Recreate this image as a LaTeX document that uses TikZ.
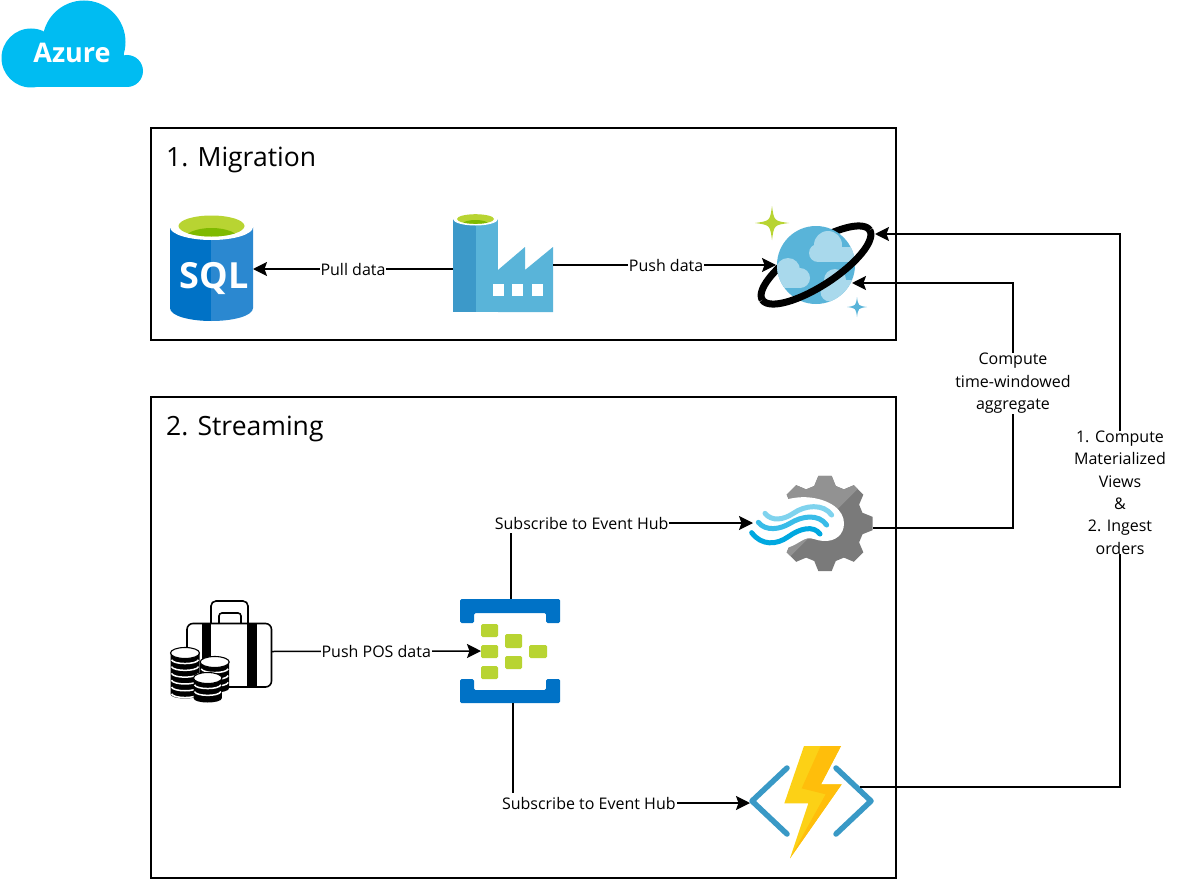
\documentclass[tikz,border=0pt]{standalone}
\usepackage{fontspec}
\setmainfont{Open Sans}
\usetikzlibrary{arrows.meta}
\definecolor{azurecloud}{HTML}{00BCF2}
\definecolor{sqlA}{HTML}{0072C6}
\definecolor{sqlB}{HTML}{2B88D0}
\definecolor{limeA}{HTML}{B8D432}
\definecolor{limeB}{HTML}{7FBA00}
\definecolor{adfA}{HTML}{3C99C9}
\definecolor{adfB}{HTML}{59B4D9}
\definecolor{cloudL}{HTML}{A9D9EC}
\definecolor{gearA}{HTML}{929292}
\definecolor{gearB}{HTML}{7A7A7A}
\definecolor{waveA}{HTML}{7FD3EE}
\definecolor{waveB}{HTML}{39BCE8}
\definecolor{waveC}{HTML}{00A8E0}
\definecolor{funcB}{HTML}{3999C6}
\definecolor{boltA}{HTML}{FCD116}
\definecolor{boltB}{HTML}{FFBE0B}
\newcommand{\coinstack}[4]{% x, ytop, ybottom, r
  \fill[black] (#1-#4,#2) -- (#1-#4,#3) .. controls (#1-#4,#3+6) and (#1+#4,#3+6) .. (#1+#4,#3) -- (#1+#4,#2) -- cycle;
  \foreach \yy in {1,2,3,4,5,6,7}{
    \pgfmathsetmacro{\ly}{#2+\yy*6.8}
    \ifdim\ly pt<#3pt
      \draw[white,line width=1.5pt] (#1-#4+1,\ly) .. controls (#1-#4+3,\ly+5) and (#1+#4-3,\ly+5) .. (#1+#4-1,\ly);
    \fi
  }
  \draw[black,fill=white,line width=1.1pt] (#1,#2) ellipse[x radius=#4,y radius=5.5];
}
\newcommand{\fourstar}[4]{% x, y, r, colour
  \fill[#4] (#1,#2-#3) .. controls (#1+.12*#3,#2-.12*#3) .. (#1+#3,#2) .. controls (#1+.12*#3,#2+.12*#3) .. (#1,#2+#3) .. controls (#1-.12*#3,#2+.12*#3) .. (#1-#3,#2) .. controls (#1-.12*#3,#2-.12*#3) .. cycle;
}
\tikzset{
  frame/.style={draw=black,line width=1.5pt,fill=white},
  title/.style={anchor=west,inner sep=0pt,font=\fontsize{26.5}{30}\selectfont},
  icon/.style={inner sep=0pt,outer sep=0pt,minimum width=#1},
  link/.style={line width=1.5pt,-{Stealth[length=14pt,width=14pt,inset=2.5pt]}},
  lab/.style={fill=white,inner xsep=1pt,inner ysep=0pt,minimum height=20pt,align=center,font=\fontsize{16}{22.4}\selectfont},
}
\begin{document}
\begin{tikzpicture}[x=1pt,y=-1pt]
\useasboundingbox (0,0) rectangle (1178,880);
\fill[white] (0,0) rectangle (1178,880);

% Azure cloud
\fill[azurecloud] (84,42) circle[radius=41.5];
\fill[azurecloud] (31,58) circle[radius=29.5];
\fill[azurecloud] (127,71) circle[radius=16];
\fill[azurecloud] (31,60) rectangle (127,87);
\fill[azurecloud] (84,50) rectangle (124,70);
\node[font=\fontsize{27}{30}\selectfont\bfseries,text=white,inner sep=0pt] (azure) at (72,52.5) {Azure};

% Frames
\draw[frame] (151,128) rectangle (896,340);
\draw[frame] (151,397) rectangle (896,878);
\node[title] (t1) at (166,160) {1. Migration};
\node[title] (t2) at (166,429) {2. Streaming};

% SQL icon
\begin{scope}
\clip (170,205) rectangle (211,325);
\fill[sqlA] (170,227) -- (170,308) .. controls (170,316) and (190,321) .. (211.5,321) .. controls (233,321) and (253,316) .. (253,308) -- (253,227) -- cycle;
\end{scope}
\begin{scope}
\clip (211,205) rectangle (255,325);
\fill[sqlB] (170,227) -- (170,308) .. controls (170,316) and (190,321) .. (211.5,321) .. controls (233,321) and (253,316) .. (253,308) -- (253,227) -- cycle;
\end{scope}
\fill[white] (211.5,227) ellipse[x radius=41.5,y radius=13];
\fill[limeA] (211.5,226) ellipse[x radius=33,y radius=10.5];
\begin{scope}
\clip (211.5,226) ellipse[x radius=33,y radius=10.5];
\fill[limeB] (211.5,240) ellipse[x radius=28,y radius=12];
\end{scope}
\node[text=white,font=\fontsize{36}{40}\selectfont\bfseries,inner sep=0pt] (sqltext) at (214,279) {SQL};
\node[icon=83pt,minimum height=106pt] (sql) at (211.5,269) {};

% Data factory icon
\fill[adfA] (453,219) rectangle (476,312);
\fill[adfB] (476,219) rectangle (498,312);
\fill[adfB] (498,270) -- (525,247) -- (525,270) -- (553,247) -- (553,312) -- (498,312) -- cycle;
\fill[white] (475.5,219) ellipse[x radius=22.5,y radius=6.5];
\fill[limeA] (475.5,219) ellipse[x radius=18.5,y radius=4.8];
\begin{scope}
\clip (475.5,219) ellipse[x radius=18.5,y radius=4.8];
\fill[limeB] (475.5,224) ellipse[x radius=13,y radius=4];
\end{scope}
\fill[white] (493,284) rectangle (504,296);
\fill[white] (512,284) rectangle (523,296);
\fill[white] (532,284) rectangle (543,296);
\node[icon=100pt,minimum height=94pt] (adf) at (503,265) {};

% Cosmos icon
\begin{scope}[shift={(816,265)},rotate=33]
\draw[black,line width=7pt] plot[domain=180:360,samples=50,smooth] ({64*cos(\x)},{21*sin(\x)});
\end{scope}
\fill[adfB] (816,265) circle[radius=39];
\begin{scope}
\clip (816,265) circle[radius=39];
\fill[cloudL] (828,245) circle[radius=14];
\fill[cloudL] (818,253) circle[radius=9];
\fill[cloudL] (818,247) rectangle (862,262);
\fill[cloudL] (788,270) circle[radius=12];
\fill[cloudL] (800,278) circle[radius=10];
\fill[cloudL] (770,270) rectangle (788,288);
\fill[cloudL] (788,278) rectangle (800,288);
\fill[cloudL] (835,280) circle[radius=11];
\fill[cloudL] (830,292) circle[radius=9.5];
\fill[cloudL] (835,280) rectangle (862,305);
\end{scope}
\begin{scope}[shift={(816,265)},rotate=33]
\draw[black,line width=7pt] plot[domain=0:180,samples=50,smooth] ({64*cos(\x)},{21*sin(\x)});
\end{scope}
\fourstar{772}{223}{17}{limeA}
\fourstar{857}{307}{10}{adfB}
\node[icon=118pt,minimum height=83pt] (cosmos) at (816,265) {};
\coordinate (cosA) at (875,234);
\coordinate (cosB) at (852,283);
\coordinate (cosIn) at (776,265);

% Stream Analytics icon
\begin{scope}[shift={(825,523.5)}]
\clip (-15:39) \foreach \a in {0,45,...,315}{ -- ({\a-16}:39) -- ({\a-8}:48) -- ({\a+8}:48) -- ({\a+16}:39)} -- cycle;
\fill[gearB] (-60,-60) rectangle (60,60);
\fill[gearA] (-60,58) -- (60,-62) -- (-60,-62) -- cycle;
\end{scope}
\begin{scope}[shift={(730,460)},scale=1/3]
\fill[white] (90,150) .. controls (130,130) and (180,108) .. (235,112) .. controls (300,118) and (342,150) .. (342,190) .. controls (342,225) and (315,245) .. (280,243) .. controls (260,242) and (245,232) .. (232,235) .. controls (210,240) and (195,262) .. (150,268) .. controls (110,272) and (70,250) .. (50,220) -- cycle;
\draw[waveA,line width=5pt,line cap=round] (105,160) .. controls (125,185) and (160,180) .. (190,160) .. controls (225,135) and (280,130) .. (305,165);
\draw[waveB,line width=5pt,line cap=round] (85,187) .. controls (108,215) and (150,208) .. (180,190) .. controls (215,168) and (265,160) .. (290,195);
\draw[waveC,line width=5pt,line cap=round] (65,218) .. controls (95,258) and (140,255) .. (175,230) .. controls (210,205) and (250,195) .. (270,222);
\end{scope}
\node[icon=120pt,minimum height=96pt] (stream) at (813,523.5) {};

% Event Hub icon
\fill[sqlA,rounded corners=1.5pt] (460,623) -- (460,599) -- (560,599) -- (560,623) -- (546,623) -- (546,613) -- (474,613) -- (474,623) -- cycle;
\fill[sqlA,rounded corners=1.5pt] (460,679) -- (460,703) -- (560,703) -- (560,679) -- (546,679) -- (546,690) -- (474,690) -- (474,679) -- cycle;
\fill[limeA,rounded corners=1.5pt] (481,624) rectangle (498,637);
\fill[limeA,rounded corners=1.5pt] (481,645) rectangle (498,658);
\fill[limeA,rounded corners=1.5pt] (481,666) rectangle (498,679);
\fill[limeA,rounded corners=1.5pt] (505,634) rectangle (522,648);
\fill[limeA,rounded corners=1.5pt] (505,656) rectangle (522,669);
\fill[limeA,rounded corners=1.5pt] (529,645) rectangle (547,658);
\node[icon=100pt,minimum height=104pt] (hub) at (510,651) {};
\coordinate (hubIn) at (481,651);
\coordinate (hubTop) at (511,599);
\coordinate (hubBot) at (513,703);
\coordinate (subA) at (511,523);
\coordinate (subB) at (513,803);

% Function icon
\draw[funcB,line width=5.5pt,line cap=round,line join=round] (787,768) -- (752,801) -- (787,834);
\draw[funcB,line width=5.5pt,line cap=round,line join=round] (836,768) -- (871,801) -- (836,834);
\begin{scope}[shift={(730,735)},scale=1/3]
\fill[boltA] (222,33) -- (333,33) -- (273,148) -- (335,148) -- (180,370) -- (235,205) -- (163,205) -- cycle;
\fill[boltB] (272,33) -- (333,33) -- (273,148) -- (335,148) -- (180,370) -- (287,178) -- (215,160) -- cycle;
\end{scope}
\node[icon=122pt,minimum height=112pt] (func) at (811,801) {};
\coordinate (fnOut) at (860,787);

% POS suitcase icon
\draw[black,line width=1.6pt,rounded corners=5pt] (211,623) -- (211,601) -- (248,601) -- (248,623);
\draw[black,line width=1.6pt,rounded corners=3pt] (219,623) -- (219,613) -- (241,613) -- (241,623);
\draw[black,fill=white,line width=1.6pt,rounded corners=6pt] (187,623.5) rectangle (271.5,687);
\fill[black] (202,623.5) rectangle (211,687);
\fill[black] (247,623.5) rectangle (257,687);
\coinstack{185}{653}{694}{14.5}
\coinstack{214.7}{662}{688}{14.5}
\coinstack{207.7}{678}{698}{14.2}
\node[icon=103pt,minimum height=101pt] (pos) at (220,651.5) {};

% Connectors
\draw[link] ([yshift=-4pt]adf.west) -- node[lab,pos=.5] (lpull) {Pull data} (sql.east);
\draw[link] (adf.east) -- node[lab,pos=.507] (lpush) {Push data} (cosIn);
\draw[link] (pos.east) -- node[lab,pos=.5] (lposd) {Push POS data} (hubIn);
\coordinate (sa1) at (1013,528);
\coordinate (sa2) at (1013,283);
\draw[link] ([yshift=-4.5pt]stream.east) -- (sa1) -- node[lab,pos=.59] (lagg) {Compute\\time-windowed\\aggregate} (sa2) -- (cosB);
\coordinate (fn1) at (1120,787);
\coordinate (fn2) at (1120,234);
\draw[link] (fnOut) -- (fn1) -- node[lab,pos=.5325] (lmat) {1. Compute\\Materialized\\Views\\\&\\2. Ingest\\orders} (fn2) -- (cosA);
\draw[link] (hubTop) -- (subA) -- node[lab,pos=.292] (lsub1) {Subscribe to Event Hub} ([yshift=.5pt]stream.west);
\draw[link] (hubBot) -- (subB) -- node[lab,pos=.32] (lsub2) {Subscribe to Event Hub} ([yshift=-2pt]func.west);
\end{tikzpicture}
\end{document}
